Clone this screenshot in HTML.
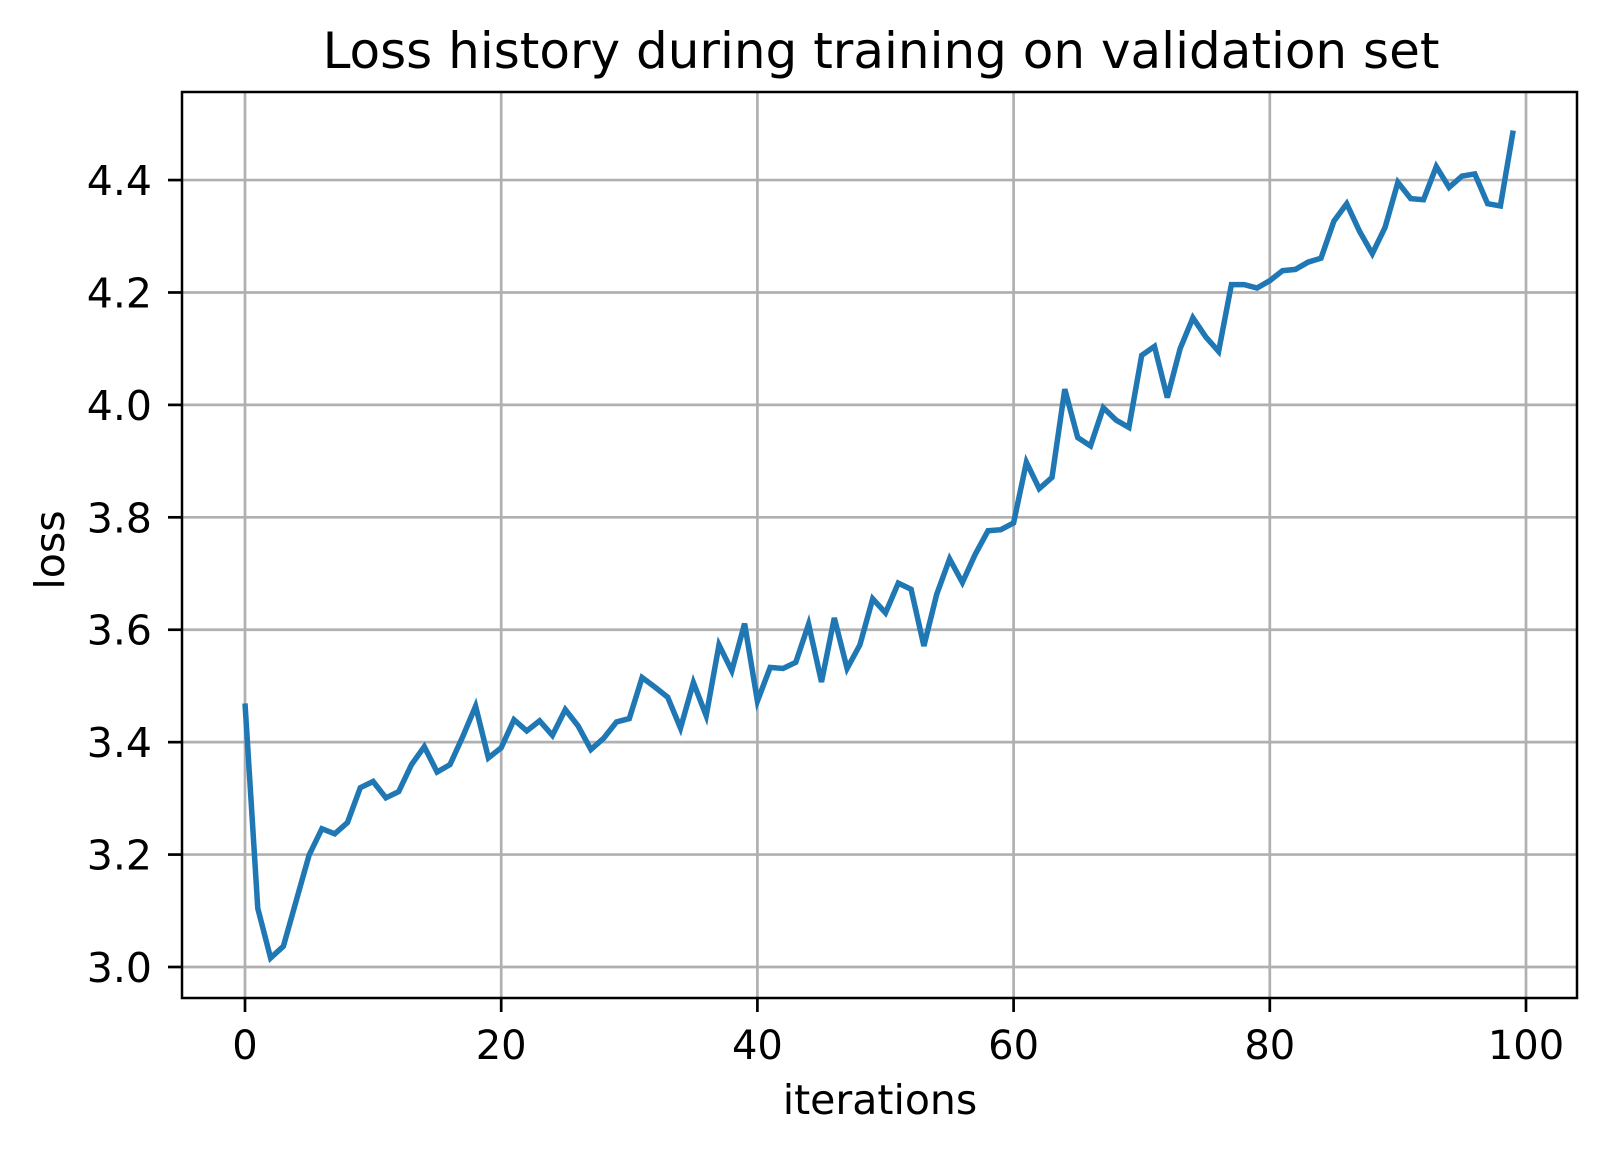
<!DOCTYPE html>
<html><head><meta charset="utf-8"><style>
html,body{margin:0;padding:0;background:#fff;}
svg text{font-family:"DejaVu Sans","Liberation Sans",sans-serif;fill:#000;}
</style></head><body>
<svg id="chart" width="1607" height="1154" viewBox="0 0 1607 1154" xmlns="http://www.w3.org/2000/svg">
<rect width="1607" height="1154" fill="#fff"/>
<g id="grid"></g>
<g id="ticks"></g>
<g id="series"></g>
<rect x="182" y="92" width="1395" height="906" fill="none" stroke="#000" stroke-width="2.5"/>
<text x="881" y="68" font-size="50" text-anchor="middle">Loss history during training on validation set</text>
<text x="880" y="1114" font-size="41" text-anchor="middle">iterations</text>
<text x="64" y="550" font-size="41" text-anchor="middle" transform="rotate(-90 64 550)">loss</text>
</svg>
<script>
const xTicks = [0,20,40,60,80,100];
const yTicks = [3.0,3.2,3.4,3.6,3.8,4.0,4.2,4.4];
const yTickLabels = ["3.0","3.2","3.4","3.6","3.8","4.0","4.2","4.4"];
const lossValues = [3.469,3.104,3.016,3.037,3.118,3.199,3.246,3.237,3.257,3.319,3.330,3.301,3.312,3.360,3.392,3.347,3.360,3.410,3.464,3.372,3.390,3.440,3.420,3.438,3.412,3.458,3.429,3.387,3.407,3.436,3.442,3.515,3.498,3.480,3.425,3.506,3.447,3.573,3.527,3.611,3.473,3.533,3.531,3.542,3.610,3.507,3.621,3.531,3.573,3.655,3.630,3.683,3.672,3.571,3.663,3.726,3.684,3.734,3.776,3.778,3.790,3.898,3.851,3.871,4.028,3.942,3.927,3.995,3.973,3.960,4.088,4.104,4.013,4.100,4.155,4.121,4.095,4.214,4.214,4.208,4.221,4.239,4.241,4.254,4.261,4.327,4.358,4.309,4.269,4.316,4.396,4.367,4.365,4.424,4.387,4.407,4.411,4.358,4.354,4.488];

const NS="http://www.w3.org/2000/svg";
function xs(v){return 245 + v*12.81;}
function ys(v){return 967 - (v-3.0)*562.1;}
const grid=document.getElementById('grid'), ticks=document.getElementById('ticks'), series=document.getElementById('series');
function mk(tag,attrs,parent){const e=document.createElementNS(NS,tag);for(const k in attrs)e.setAttribute(k,attrs[k]);parent.appendChild(e);return e;}
xTicks.forEach(t=>{
  const x=xs(t);
  const g=mk('line',{x1:x,x2:x,y1:92,y2:998,stroke:'#b0b0b0','stroke-width':2.7},grid);
  
  
  const tk=mk('line',{x1:x,x2:x,y1:998,y2:1012,stroke:'#000','stroke-width':2.7},ticks);
  
  
  const tx=mk('text',{x:x,y:1059,'font-size':40,'text-anchor':'middle'},ticks);
  tx.textContent=String(t);
  
  
});
yTicks.forEach((t,i)=>{
  const y=ys(t);
  const g=mk('line',{x1:182,x2:1577,y1:y,y2:y,stroke:'#b0b0b0','stroke-width':2.7},grid);
  
  
  const tk=mk('line',{x1:168,x2:182,y1:y,y2:y,stroke:'#000','stroke-width':2.7},ticks);
  
  
  const tx=mk('text',{x:152,y:y+15,'font-size':41,'text-anchor':'end'},ticks);
  tx.textContent=yTickLabels[i];
  
  
});
const pts=lossValues.map((v,i)=>xs(i).toFixed(1)+','+ys(v).toFixed(1)).join(' ');
const line=mk('polyline',{points:pts,fill:'none',stroke:'#1f77b4','stroke-width':5.5,'stroke-linejoin':'miter','stroke-linecap':'butt'},series);


</script>
</body></html>
